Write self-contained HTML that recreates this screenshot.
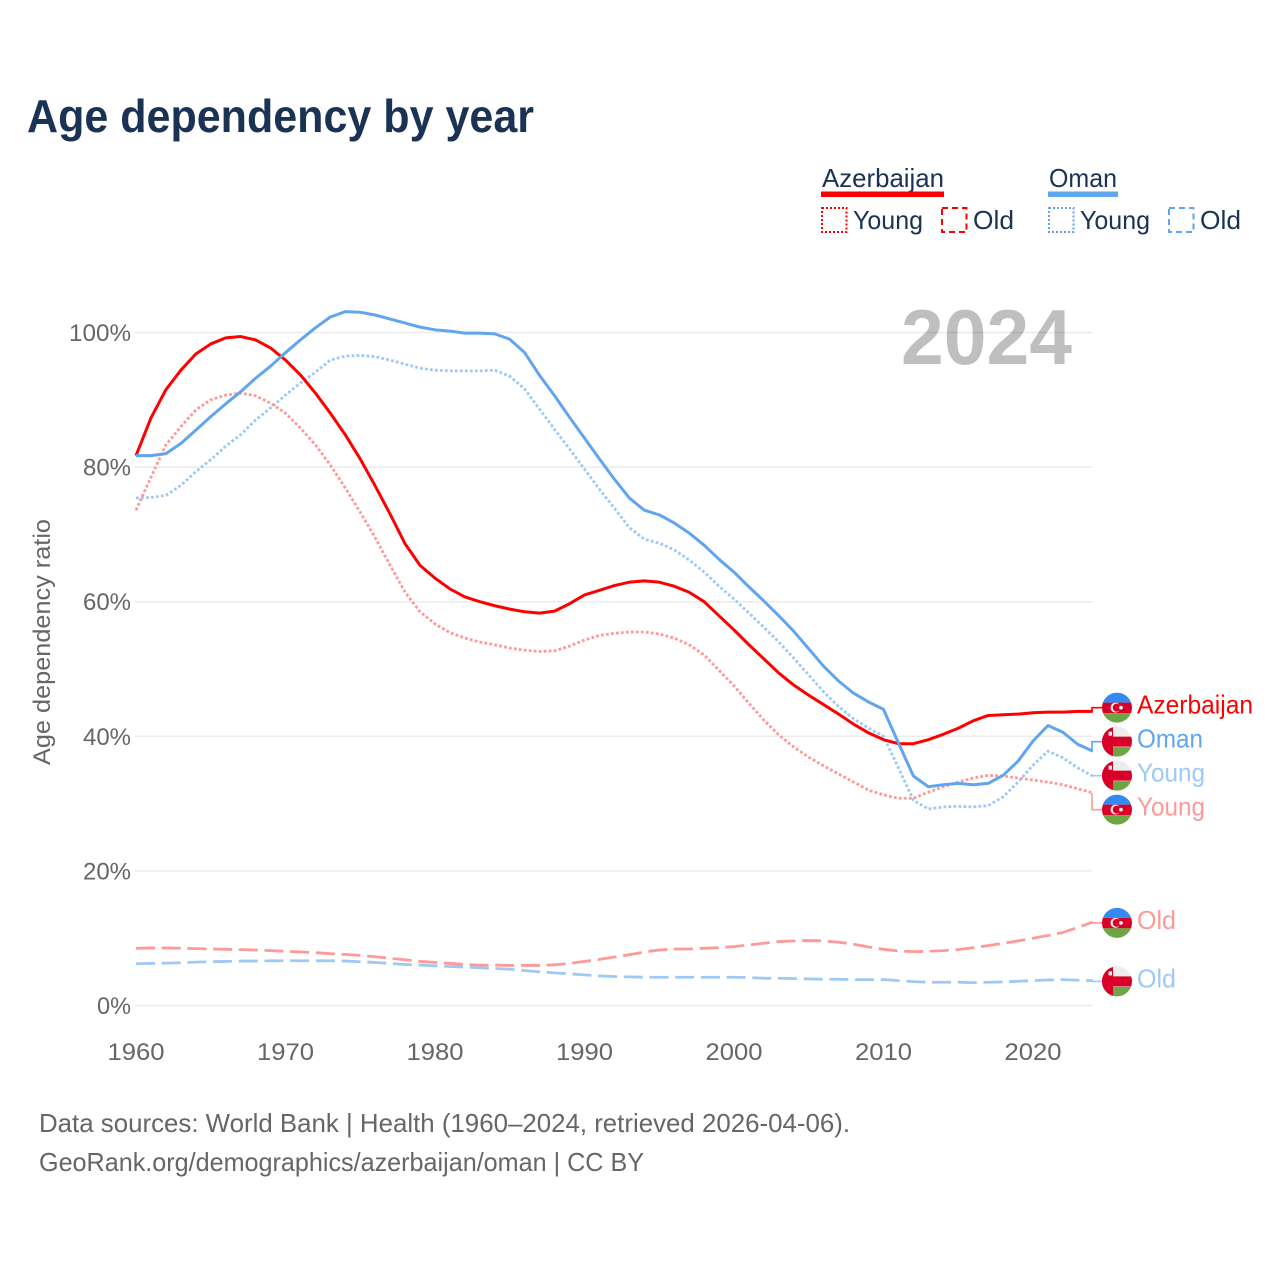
<!DOCTYPE html>
<html lang="en">
<head>
<meta charset="utf-8">
<title>Age dependency by year</title>
<style>
html,body{margin:0;padding:0;background:#fff;}
svg{display:block;font-family:"Liberation Sans",Arial,sans-serif;}
</style>
</head>
<body>
<svg id="chart" width="1280" height="1280" viewBox="0 0 1280 1280" xmlns="http://www.w3.org/2000/svg">
  <rect x="0" y="0" width="1280" height="1280" fill="#ffffff"/>
  <text x="27" y="132" font-size="46" font-weight="700" fill="#1a3354" textLength="507" lengthAdjust="spacingAndGlyphs">Age dependency by year</text>

  <g>
    <g>
      <text x="822" y="187" font-size="26" fill="#1a3354" textLength="122" lengthAdjust="spacingAndGlyphs">Azerbaijan</text>
      <rect x="821" y="191.5" width="123" height="5.5" fill="#ff0000"/>
      <rect x="822" y="208" width="24.5" height="24" fill="none" stroke="#ff0000" stroke-width="2" stroke-dasharray="2 2"/>
      <text x="853" y="229" font-size="26" fill="#1a3354" textLength="70" lengthAdjust="spacingAndGlyphs">Young</text>
      <rect x="942" y="208" width="24.5" height="24" fill="none" stroke="#ff0000" stroke-width="2" stroke-dasharray="6 4"/>
      <text x="973" y="229" font-size="26" fill="#1a3354" textLength="41" lengthAdjust="spacingAndGlyphs">Old</text>
    </g>
    <g>
      <text x="1049" y="187" font-size="26" fill="#1a3354" textLength="68" lengthAdjust="spacingAndGlyphs">Oman</text>
      <rect x="1048" y="191.5" width="70" height="5.5" fill="#60a5ee"/>
      <rect x="1049" y="208" width="24.5" height="24" fill="none" stroke="#60a5ee" stroke-width="2" stroke-dasharray="2 2"/>
      <text x="1080" y="229" font-size="26" fill="#1a3354" textLength="70" lengthAdjust="spacingAndGlyphs">Young</text>
      <rect x="1169" y="208" width="24.5" height="24" fill="none" stroke="#60a5ee" stroke-width="2" stroke-dasharray="6 4"/>
      <text x="1200" y="229" font-size="26" fill="#1a3354" textLength="41" lengthAdjust="spacingAndGlyphs">Old</text>
    </g>
  </g>

  <text transform="translate(50,642) rotate(-90)" text-anchor="middle" font-size="24" fill="#666666" textLength="246" lengthAdjust="spacingAndGlyphs">Age dependency ratio</text>
  <g id="grid"></g>
  <g id="yticks"></g>
  <g id="xticks"></g>
  <text x="901" y="364" font-size="78" font-weight="700" fill="#000000" fill-opacity="0.25" textLength="171" lengthAdjust="spacingAndGlyphs">2024</text>
  <g id="series"></g>
  <g id="endlabels"></g>

  <text x="39" y="1132" font-size="26" fill="#666666" textLength="811" lengthAdjust="spacingAndGlyphs">Data sources: World Bank | Health (1960–2024, retrieved 2026-04-06).</text>
  <text x="39" y="1171" font-size="26" fill="#666666" textLength="605" lengthAdjust="spacingAndGlyphs">GeoRank.org/demographics/azerbaijan/oman | CC BY</text>
</svg>

<script>
const firstYear = 1960;
const azTotal = [81.7,87.3,91.5,94.4,96.8,98.3,99.2,99.4,98.9,97.7,95.9,93.7,91,88,84.8,81.2,77.2,73,68.6,65.4,63.5,61.9,60.7,60,59.4,58.9,58.5,58.3,58.6,59.7,61,61.7,62.4,62.9,63.1,62.9,62.3,61.4,60,57.9,55.8,53.6,51.5,49.4,47.6,46.1,44.7,43.3,41.8,40.5,39.5,38.9,38.9,39.5,40.3,41.2,42.3,43.1,43.2,43.3,43.5,43.6,43.6,43.7,43.7];
const azYoung = [73.6,78.5,83.3,86,88.5,90,90.7,91,90.6,89.5,88,85.8,83.3,80.3,76.9,73.3,69.5,65.4,61.4,58.5,56.7,55.4,54.6,54,53.6,53.1,52.8,52.6,52.7,53.4,54.3,55,55.3,55.5,55.5,55.2,54.6,53.6,52.1,49.8,47.5,44.9,42.4,40.2,38.4,36.9,35.6,34.4,33.2,32,31.3,30.8,30.8,31.7,32.5,33.2,33.8,34.2,34.1,33.8,33.5,33.2,32.8,32.2,31.6];
const azOld = [8.5,8.55,8.55,8.5,8.45,8.4,8.35,8.3,8.25,8.15,8.05,7.95,7.85,7.7,7.6,7.45,7.25,7,6.8,6.55,6.4,6.25,6.1,6,6,5.95,5.95,5.95,6.05,6.25,6.55,6.85,7.2,7.55,7.95,8.25,8.4,8.4,8.5,8.6,8.75,9,9.25,9.5,9.6,9.65,9.6,9.4,9.1,8.7,8.35,8.1,8,8.05,8.15,8.3,8.6,8.9,9.25,9.6,10,10.4,10.85,11.6,12.4];
const omanTotal = [81.7,81.7,82,83.5,85.5,87.5,89.4,91.2,93.2,95,97,98.9,100.7,102.3,103.1,103,102.6,102,101.4,100.8,100.4,100.2,99.9,99.9,99.8,99,97,93.6,90.6,87.4,84.3,81.2,78.2,75.4,73.6,72.9,71.7,70.2,68.4,66.3,64.4,62.2,60.1,57.9,55.6,53,50.4,48.2,46.4,45.1,44,39,34.1,32.5,32.8,33,32.8,33,34.2,36.3,39.3,41.6,40.6,38.8,37.8];
const omanYoung = [75.4,75.5,75.8,77.3,79.3,81.1,83.1,84.8,87,88.8,90.7,92.5,94.1,95.9,96.5,96.6,96.4,95.9,95.3,94.7,94.4,94.3,94.3,94.3,94.4,93.5,91.6,88.6,85.6,82.7,79.7,76.7,73.9,71,69.3,68.7,67.7,66.2,64.4,62.3,60.4,58.3,56.2,54,51.6,49.1,46.6,44.4,42.6,41.2,40,35.3,30.5,29.2,29.5,29.6,29.5,29.7,31,33.2,35.7,37.8,36.8,35.3,34.1];
const omanOld = [6.2,6.25,6.3,6.35,6.45,6.5,6.55,6.6,6.6,6.65,6.65,6.65,6.65,6.65,6.6,6.5,6.4,6.25,6.1,6,5.9,5.8,5.7,5.6,5.5,5.4,5.2,5,4.85,4.7,4.55,4.4,4.3,4.25,4.2,4.2,4.2,4.2,4.2,4.2,4.2,4.15,4.05,4.05,4,3.95,3.9,3.9,3.85,3.85,3.85,3.7,3.55,3.45,3.45,3.45,3.4,3.45,3.5,3.6,3.7,3.8,3.85,3.75,3.7];
const yTickValues = [0,20,40,60,80,100];
const xTickValues = [1960,1970,1980,1990,2000,2010,2020];

const NS = "http://www.w3.org/2000/svg";
function xScale(year){ return 136 + (year - 1960) * 14.95; }
function yScale(v){ return 1005.5 - v * 6.73; }
function make(tag, attrs, parent, text){
  const el = document.createElementNS(NS, tag);
  for (const k in attrs) el.setAttribute(k, attrs[k]);
  if (text !== undefined) el.textContent = text;
  parent.appendChild(el);
  return el;
}

const gridG = document.getElementById('grid');
const yG = document.getElementById('yticks');
yTickValues.forEach(function(v){
  const line = make('line', {x1:135, x2:1092, y1:yScale(v), y2:yScale(v), stroke:'#ebebeb', 'stroke-width':1.5}, gridG);
  
  
  const label = v + '%';
  const t = make('text', {x:131, y:yScale(v)+8.5, 'text-anchor':'end', 'font-size':24, fill:'#666666', textLength:14*(label.length-1)+20, lengthAdjust:'spacingAndGlyphs'}, yG, label);
  
  
});
const xG = document.getElementById('xticks');
xTickValues.forEach(function(year){
  const t = make('text', {x:xScale(year), y:1060, 'text-anchor':'middle', 'font-size':24, fill:'#666666', textLength:57, lengthAdjust:'spacingAndGlyphs'}, xG, String(year));
  
  
});

const RED = '#ff0000', BLUE = '#60a5ee', PINK = '#ff9999', SKY = '#9fc9f5';
const DOT = '2.8 2.2', DASH = '19 6.7';
const seriesList = [
  {key:'oman-old',    vals:omanOld,    color:SKY,  dash:DASH, w:2.8, label:'Old',        flag:'om'},
  {key:'az-old',      vals:azOld,      color:PINK, dash:DASH, w:2.8, label:'Old',        flag:'az'},
  {key:'oman-young',  vals:omanYoung,  color:SKY,  dash:DOT,  w:2.8, label:'Young',      flag:'om'},
  {key:'az-young',    vals:azYoung,    color:PINK, dash:DOT,  w:2.8, label:'Young',      flag:'az'},
  {key:'az-total',    vals:azTotal,    color:RED,  dash:'',   w:3,   label:'Azerbaijan', flag:'az'},
  {key:'oman-total',  vals:omanTotal,  color:BLUE, dash:'',   w:3,   label:'Oman',       flag:'om'}
];
const labelWidths = {Azerbaijan:116, Oman:66, Young:68, Old:39};

const seriesG = document.getElementById('series');
seriesList.forEach(function(s){
  const d = s.vals.map(function(v,i){ return (i?'L':'M') + xScale(firstYear+i).toFixed(2) + ',' + yScale(v).toFixed(2); }).join('');
  const attrs = {d:d, fill:'none', stroke:s.color, 'stroke-width':s.w, 'stroke-linejoin':'round'};
  if (s.dash) attrs['stroke-dasharray'] = s.dash;
  const p = make('path', attrs, seriesG);
  
  
});

/* dodge end labels: merge overlapping clusters, spacing 34px */
const labelSpacing = 34;
const labelItems = seriesList.map(function(s){ return {s:s, y:yScale(s.vals[s.vals.length-1])}; }).sort(function(a,b){ return a.y-b.y; });
let labelClusters = labelItems.map(function(it){ return {members:[it], mean:it.y}; });
function clusterTop(c){ return c.mean - (c.members.length-1)*labelSpacing/2; }
function clusterBottom(c){ return c.mean + (c.members.length-1)*labelSpacing/2; }
let didMerge = true;
while (didMerge){
  didMerge = false;
  for (let i=0;i<labelClusters.length-1;i++){
    if (clusterBottom(labelClusters[i]) + labelSpacing > clusterTop(labelClusters[i+1])){
      const m = labelClusters[i].members.concat(labelClusters[i+1].members);
      labelClusters.splice(i,2,{members:m, mean:m.reduce(function(a,b){return a+b.y;},0)/m.length});
      didMerge = true;
      break;
    }
  }
}
labelClusters.forEach(function(c){ c.members.forEach(function(it,i){ it.ly = clusterTop(c) + i*labelSpacing + 0.8; }); });

function drawFlag(parent, code, cy, idx){
  const cx = 1117, r = 15;
  const clip = make('clipPath', {id:'flag-clip-'+idx}, parent);
  make('circle', {cx:cx, cy:cy, r:r}, clip);
  const g = make('g', {'clip-path':'url(#flag-clip-'+idx+')'}, parent);
  
  
  if (code === 'az'){
    make('rect', {x:cx-r, y:cy-r, width:2*r, height:10, fill:'#338af3'}, g);
    make('rect', {x:cx-r, y:cy-5, width:2*r, height:10.5, fill:'#d80027'}, g);
    make('rect', {x:cx-r, y:cy+5.5, width:2*r, height:10, fill:'#6da544'}, g);
    make('circle', {cx:cx-1.5, cy:cy, r:5, fill:'#f0f0f0'}, g);
    make('circle', {cx:cx-0.3, cy:cy, r:4, fill:'#d80027'}, g);
    make('circle', {cx:cx+4, cy:cy, r:1.9, fill:'#f0f0f0'}, g);
  } else {
    make('rect', {x:cx-r, y:cy-r, width:2*r, height:2*r, fill:'#ececec'}, g);
    make('rect', {x:cx-r, y:cy+5.5, width:2*r, height:10, fill:'#6da544'}, g);
    make('rect', {x:cx-r, y:cy-5, width:2*r, height:10, fill:'#d80027'}, g);
    make('rect', {x:cx-r, y:cy-r, width:11, height:2*r, fill:'#d80027'}, g);
    make('rect', {x:cx-8.5, y:cy-10, width:3.5, height:4, fill:'#f0f0f0'}, g);
  }
}

const endG = document.getElementById('endlabels');
labelItems.forEach(function(it, i){
  const s = it.s;
  const conn = make('path', {d:'M1092,'+it.y.toFixed(2)+'V'+it.ly.toFixed(2)+'H1103', fill:'none', stroke:s.color, 'stroke-width':1.6}, endG);
  
  
  drawFlag(endG, s.flag, it.ly, i);
  const t = make('text', {x:1137, y:it.ly+6, 'font-size':26, fill:s.color, textLength:labelWidths[s.label], lengthAdjust:'spacingAndGlyphs'}, endG, s.label);
  
  
});
</script>
</body>
</html>
